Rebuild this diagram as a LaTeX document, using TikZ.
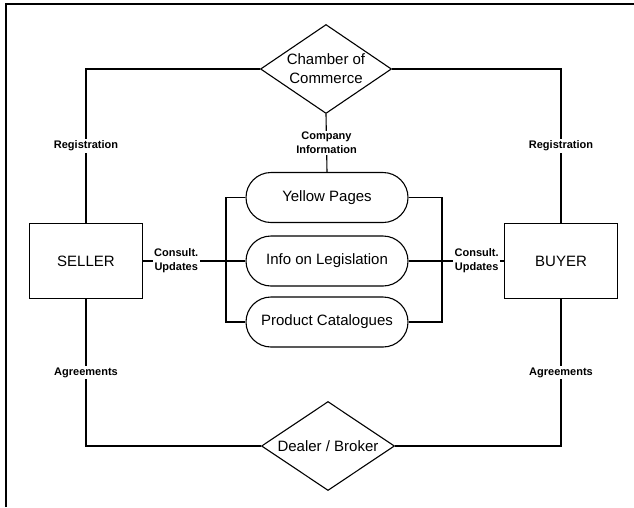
\documentclass[tikz,border=0pt]{standalone}
\usepackage{fontspec}
\setmainfont{Liberation Sans}
\usetikzlibrary{shapes.geometric,shapes.misc}
\begin{document}
\begin{tikzpicture}[x=1pt,y=-1pt,
  line width=1.1pt,
  party/.style={draw, rectangle, minimum width=113pt, minimum height=75pt,
    inner sep=0pt, font=\fontsize{15}{18}\selectfont},
  hub/.style={draw, diamond, inner sep=0pt, align=center, shape aspect=1.5,
    font=\fontsize{15}{19}\selectfont},
  service/.style={draw, rounded rectangle, minimum width=162pt,
    minimum height=50pt, inner sep=0pt, font=\fontsize{15}{18}\selectfont},
  tag/.style={fill=white, inner sep=1.5pt, align=center,
    font=\bfseries\fontsize{11}{14}\selectfont}]
\useasboundingbox (0,0) rectangle (634,507);

% outer frame (top and left edges)
\draw[line width=1.5pt] (6,507) -- (6,4) -- (634,4);

% main nodes
\node[hub, minimum width=131pt, minimum height=89pt] (cc) at (326,69) {Chamber of\\Commerce};
\node[hub, minimum width=133pt, minimum height=89pt] (db) at (328,446) {Dealer / Broker};
\node[party] (seller) at (86,261) {SELLER};
\node[party] (buyer) at (561,261) {BUYER};

\node[service] (yp)   at (327,197.5) {Yellow Pages};
\node[service] (info) at (327,261)   {Info on Legislation};
\node[service] (pc)   at (327,322)   {Product Catalogues};

% bracket junctions on either side of the services
\coordinate (lb) at (226,261);
\coordinate (rb) at (442,261);

% registration links
\draw (cc.west) -| node[tag, pos=0.75] {Registration} (seller.north);
\draw (cc.east) -| node[tag, pos=0.75] {Registration} (buyer.north);

% agreement links
\draw (seller.south) |- node[tag, pos=0.25] {Agreements} (db.west);
\draw (buyer.south) |- node[tag, pos=0.25] {Agreements} (db.east);

% company information
\draw (cc.south) -- node[tag] {Company\\Information} (yp.north);

% service brackets
\draw (yp.west) -| (lb) |- (pc.west);
\draw (yp.east) -| (rb) |- (pc.east);
\draw (info.west) -- (lb);
\draw (info.east) -- (rb);

% consultation links
\draw (seller.east) -- node[tag, pos=0.4] {Consult.\\Updates} (lb);
\draw (buyer.west) -- node[tag, pos=0.44] {Consult.\\Updates} (rb);
\end{tikzpicture}
\end{document}
